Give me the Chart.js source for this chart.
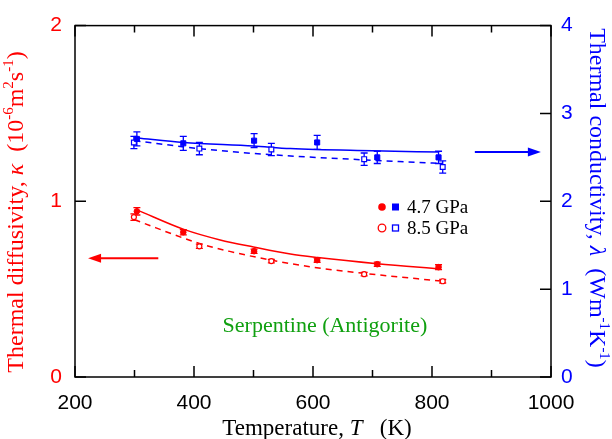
<!DOCTYPE html>
<html>
<head>
<meta charset="utf-8">
<script src="https://cdn.jsdelivr.net/npm/chart.js@4.4.0/dist/chart.umd.min.js"></script>
<style>
  html, body { margin: 0; padding: 0; background: #fff; }
</style>
</head>
<body>
<canvas id="chart" width="612" height="439"></canvas>
<script>
// --- measured points (temperature in K) ---
const tempsLow = [304, 382, 501, 607, 708, 811];   // 4.7 GPa
const tempsHigh = [299, 409, 530, 686, 818];       // 8.5 GPa

// thermal diffusivity (10^-6 m2/s)
const kappaLow = [0.943, 0.824, 0.716, 0.665, 0.642, 0.625];
const kappaLowErr = [0.021, 0.015, 0.012, 0.012, 0.012, 0.014];
const kappaHigh = [0.91, 0.744, 0.66, 0.585, 0.545];
const kappaHighErr = [0.018, 0.012, 0.01, 0.01, 0.01];

// thermal conductivity (W/m/K)
const lambdaLow = [2.71, 2.66, 2.69, 2.67, 2.50, 2.50];
const lambdaLowErr = [0.08, 0.08, 0.08, 0.08, 0.07, 0.07];
const lambdaHigh = [2.67, 2.60, 2.59, 2.48, 2.39];
const lambdaHighErr = [0.07, 0.07, 0.07, 0.07, 0.07];

// fitted curves
const fitKappaLowT = [305, 383, 444, 500, 562, 608, 708, 815];
const fitKappaLow = [0.95, 0.84, 0.78, 0.74, 0.70, 0.68, 0.645, 0.615];
const fitKappaHighT = [300, 409, 460, 530, 600, 686, 818];
const fitKappaHigh = [0.895, 0.76, 0.715, 0.665, 0.625, 0.59, 0.545];
const fitLambdaLowT = [305, 382, 500, 562, 700, 812];
const fitLambdaLow = [2.72, 2.67, 2.63, 2.60, 2.575, 2.56];
const fitLambdaHighT = [300, 409, 530, 690, 818];
const fitLambdaHigh = [2.69, 2.60, 2.53, 2.47, 2.43];

// axis ticks
const xTickValues = [200, 300, 400, 500, 600, 700, 800, 900, 1000];
const kappaTickValues = [0, 1, 2];
const lambdaTickValues = [0, 1, 2, 3, 4];

const RED = "#ff0000";
const BLUE = "#0000ff";
const GREEN = "#10a010";
const SERIF = '"Liberation Serif", "DejaVu Serif", serif';
const SANS = '"Liberation Sans", Arial, sans-serif';

const toPoints = (xs, ys) => xs.map((x, i) => ({ x: x, y: ys[i] }));

// draw text made of pieces (italic symbols, superscripts), centred on x,y
const richText = (ctx, parts, x, y, angle, size, color) => {
  ctx.save();
  ctx.translate(x, y);
  ctx.rotate(angle);
  ctx.fillStyle = color;
  ctx.textBaseline = "alphabetic";
  const fontFor = (p) =>
    (p.it ? "italic " : "") + (p.sup ? Math.round(size * 0.62) : size) + "px " + SERIF;
  let total = 0;
  parts.forEach((p) => {
    ctx.font = fontFor(p);
    total += ctx.measureText(p.t).width;
  });
  let cx = -total / 2;
  const base = size * 0.33;
  parts.forEach((p) => {
    ctx.font = fontFor(p);
    ctx.fillText(p.t, cx, p.sup ? base - size * 0.4 : base);
    cx += ctx.measureText(p.t).width;
  });
  ctx.restore();
};

const arrow = (ctx, x1, y, x2, color) => {
  // line from x1 to x2, head at x2
  const dir = x2 > x1 ? 1 : -1;
  ctx.save();
  ctx.strokeStyle = color;
  ctx.fillStyle = color;
  ctx.lineWidth = 2;
  ctx.beginPath();
  ctx.moveTo(x1, y);
  ctx.lineTo(x2 - dir * 10, y);
  ctx.stroke();
  ctx.beginPath();
  ctx.moveTo(x2, y);
  ctx.lineTo(x2 - dir * 13, y - 4.5);
  ctx.lineTo(x2 - dir * 13, y + 4.5);
  ctx.closePath();
  ctx.fill();
  ctx.restore();
};

const decorPlugin = {
  id: "decor",
  beforeDatasetsDraw(chart) {
    // error bars, under the markers
    const ctx = chart.ctx;
    const x = chart.scales.x;
    chart.data.datasets.forEach((ds) => {
      if (!ds.errors) return;
      const y = chart.scales[ds.yAxisID];
      ctx.save();
      ctx.strokeStyle = ds.borderColor;
      ctx.lineWidth = 1.3;
      ds.data.forEach((p, i) => {
        const px = x.getPixelForValue(p.x);
        const top = y.getPixelForValue(p.y + ds.errors[i]);
        const bot = y.getPixelForValue(p.y - ds.errors[i]);
        ctx.beginPath();
        ctx.moveTo(px, top);
        ctx.lineTo(px, bot);
        ctx.moveTo(px - 3.5, top);
        ctx.lineTo(px + 3.5, top);
        ctx.moveTo(px - 3.5, bot);
        ctx.lineTo(px + 3.5, bot);
        ctx.stroke();
      });
      ctx.restore();
    });
  },
  afterDraw(chart) {
    const ctx = chart.ctx;
    const { left, right, top, bottom } = chart.chartArea;
    const x = chart.scales.x;
    const yK = chart.scales.yK;
    const yL = chart.scales.yL;

    // frame
    ctx.save();
    ctx.strokeStyle = "#000";
    ctx.lineWidth = 1.5;
    ctx.strokeRect(left, top, right - left, bottom - top);

    // inward ticks
    ctx.beginPath();
    xTickValues.forEach((v) => {
      const px = x.getPixelForValue(v);
      const len = v % 200 === 0 ? 11 : 7;
      ctx.moveTo(px, bottom);
      ctx.lineTo(px, bottom - len);
      ctx.moveTo(px, top);
      ctx.lineTo(px, top + len);
    });
    kappaTickValues.forEach((v) => {
      const py = yK.getPixelForValue(v);
      ctx.moveTo(left, py);
      ctx.lineTo(left + 11, py);
    });
    lambdaTickValues.forEach((v) => {
      const py = yL.getPixelForValue(v);
      ctx.moveTo(right, py);
      ctx.lineTo(right - 11, py);
    });
    ctx.stroke();
    ctx.restore();

    // axis titles
    richText(ctx, [
      { t: "Thermal diffusivity, " }, { t: "\u03BA", it: true }, { t: "  (10" },
      { t: "-6", sup: true }, { t: "m" }, { t: "2", sup: true }, { t: "s" },
      { t: "-1", sup: true }, { t: ")" }
    ], 15, 212, -Math.PI / 2, 24, RED);
    richText(ctx, [
      { t: "Thermal conductivity, " }, { t: "\u03BB", it: true }, { t: "  (Wm" },
      { t: "-1", sup: true }, { t: "K" }, { t: "-1", sup: true }, { t: ")" }
    ], 598, 198, Math.PI / 2, 24, BLUE);
    richText(ctx, [
      { t: "Temperature, " }, { t: "T", it: true }, { t: "   (K)" }
    ], 317, 427, 0, 23, "#000");

    // sample label
    richText(ctx, [{ t: "Serpentine (Antigorite)" }],
      x.getPixelForValue(620), yK.getPixelForValue(0.3), 0, 22, GREEN);

    // arrows pointing at the matching axis
    arrow(ctx, x.getPixelForValue(340), yK.getPixelForValue(0.676), x.getPixelForValue(222), RED);
    arrow(ctx, x.getPixelForValue(872), yL.getPixelForValue(2.56), x.getPixelForValue(983), BLUE);

    // legend
    ctx.save();
    const rows = [
      { label: "4.7 GPa", filled: true, py: 207 },
      { label: "8.5 GPa", filled: false, py: 228 }
    ];
    rows.forEach((r) => {
      ctx.lineWidth = 1.3;
      ctx.beginPath();
      ctx.arc(382, r.py, 3.8, 0, Math.PI * 2);
      if (r.filled) {
        ctx.fillStyle = RED;
        ctx.fill();
        ctx.fillStyle = BLUE;
        ctx.fillRect(392, r.py - 3.5, 7, 7);
      } else {
        ctx.strokeStyle = RED;
        ctx.stroke();
        ctx.strokeStyle = BLUE;
        ctx.strokeRect(392.5, r.py - 3, 6, 6);
      }
      ctx.fillStyle = "#000";
      ctx.font = "19px " + SERIF;
      ctx.textBaseline = "middle";
      ctx.textAlign = "left";
      ctx.fillText(r.label, 407, r.py + 1);
    });
    ctx.restore();
  }
};

const plainTick = (v) => String(v);

const ctx = document.getElementById("chart").getContext("2d");
new Chart(ctx, {
  type: "scatter",
  data: {
    datasets: [
      {
        label: "kappa 4.7 GPa",
        data: toPoints(tempsLow, kappaLow),
        errors: kappaLowErr,
        yAxisID: "yK",
        pointStyle: "circle",
        pointRadius: 2.8,
        backgroundColor: RED,
        borderColor: RED,
        borderWidth: 1
      },
      {
        label: "kappa 8.5 GPa",
        data: toPoints(tempsHigh, kappaHigh),
        errors: kappaHighErr,
        yAxisID: "yK",
        pointStyle: "circle",
        pointRadius: 2.5,
        backgroundColor: "#fff",
        borderColor: RED,
        borderWidth: 1.2
      },
      {
        label: "lambda 4.7 GPa",
        data: toPoints(tempsLow, lambdaLow),
        errors: lambdaLowErr,
        yAxisID: "yL",
        pointStyle: "rect",
        pointRadius: 3.6,
        backgroundColor: BLUE,
        borderColor: BLUE,
        borderWidth: 1
      },
      {
        label: "lambda 8.5 GPa",
        data: toPoints(tempsHigh, lambdaHigh),
        errors: lambdaHighErr,
        yAxisID: "yL",
        pointStyle: "rect",
        pointRadius: 3.4,
        backgroundColor: "#fff",
        borderColor: BLUE,
        borderWidth: 1.2
      },
      {
        label: "fit kappa 4.7",
        data: toPoints(fitKappaLowT, fitKappaLow),
        yAxisID: "yK",
        showLine: true,
        pointRadius: 0,
        borderColor: RED,
        borderWidth: 1.5,
        cubicInterpolationMode: "monotone"
      },
      {
        label: "fit kappa 8.5",
        data: toPoints(fitKappaHighT, fitKappaHigh),
        yAxisID: "yK",
        showLine: true,
        pointRadius: 0,
        borderColor: RED,
        borderWidth: 1.5,
        borderDash: [6, 5],
        cubicInterpolationMode: "monotone"
      },
      {
        label: "fit lambda 4.7",
        data: toPoints(fitLambdaLowT, fitLambdaLow),
        yAxisID: "yL",
        showLine: true,
        pointRadius: 0,
        borderColor: BLUE,
        borderWidth: 1.5,
        cubicInterpolationMode: "monotone"
      },
      {
        label: "fit lambda 8.5",
        data: toPoints(fitLambdaHighT, fitLambdaHigh),
        yAxisID: "yL",
        showLine: true,
        pointRadius: 0,
        borderColor: BLUE,
        borderWidth: 1.5,
        borderDash: [6, 5],
        cubicInterpolationMode: "monotone"
      }
    ]
  },
  options: {
    responsive: false,
    animation: false,
    layout: { padding: { top: 25, left: 0, right: 0, bottom: 0 } },
    plugins: { legend: { display: false }, tooltip: { enabled: false } },
    scales: {
      x: {
        type: "linear",
        min: 200,
        max: 1000,
        ticks: { stepSize: 200, color: "#000", font: { family: SANS, size: 21 }, padding: 14, callback: plainTick },
        grid: { display: false, drawTicks: false },
        border: { display: false },
        afterFit: (s) => { s.height = 62; }
      },
      yK: {
        type: "linear",
        position: "left",
        min: 0,
        max: 2,
        ticks: { stepSize: 1, color: RED, font: { family: SANS, size: 21 }, padding: 13, callback: plainTick },
        grid: { display: false, drawTicks: false },
        border: { display: false },
        afterFit: (s) => { s.width = 75; }
      },
      yL: {
        type: "linear",
        position: "right",
        min: 0,
        max: 4,
        ticks: { stepSize: 1, color: BLUE, font: { family: SANS, size: 21 }, padding: 10, callback: plainTick },
        grid: { display: false, drawTicks: false },
        border: { display: false },
        afterFit: (s) => { s.width = 61; }
      }
    }
  },
  plugins: [decorPlugin]
});
</script>
</body>
</html>
